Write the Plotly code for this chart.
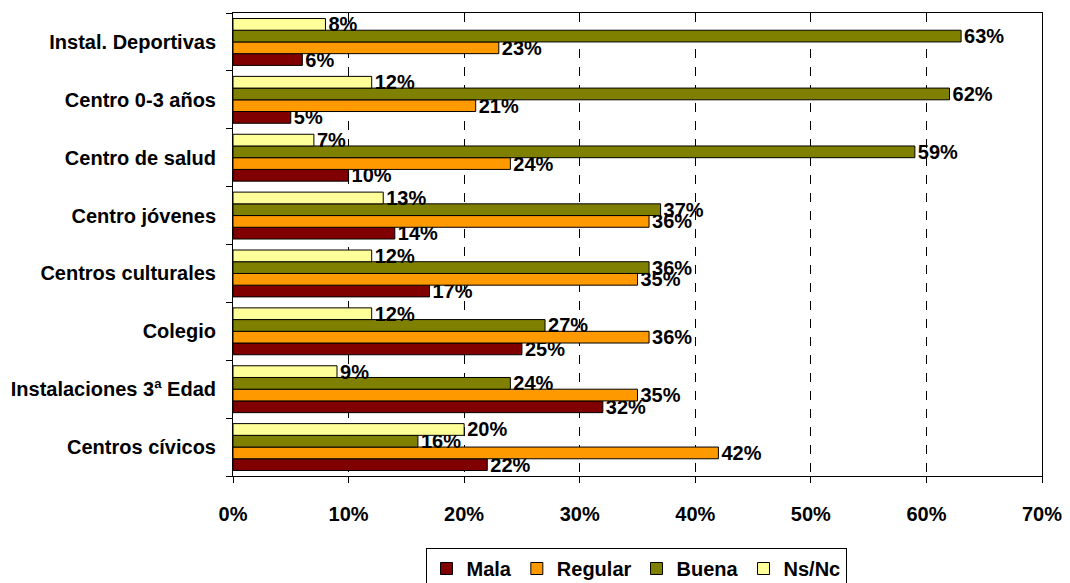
import plotly.graph_objects as go

categories = ["Instal. Deportivas", "Centro 0-3 años", "Centro de salud", "Centro jóvenes",
              "Centros culturales", "Colegio", "Instalaciones 3ª Edad", "Centros cívicos"]
mala = [6, 5, 10, 14, 17, 25, 32, 22]
regular = [23, 21, 24, 36, 35, 36, 35, 42]
buena = [63, 62, 59, 37, 36, 27, 24, 16]
nsnc = [8, 12, 7, 13, 12, 12, 9, 20]
x_ticks = [0, 10, 20, 30, 40, 50, 60, 70]

series = [("Mala", mala, "#800000"), ("Regular", regular, "#FF9900"),
          ("Buena", buena, "#808000"), ("Ns/Nc", nsnc, "#FFFF99")]

FONT = "Arial, Liberation Sans, sans-serif"
FS = 20
fig = go.Figure()
for name, vals, col in series:
    fig.add_trace(go.Bar(
        y=categories, x=vals, name=name, orientation="h",
        marker=dict(color=col, line=dict(color="black", width=1)),
        text=[f"{v}%" for v in vals], textposition="outside",
        constraintext="none",
        textfont=dict(family=FONT, size=FS, color="black", weight="bold"),
        cliponaxis=False,
    ))

# page body has an 8px default margin, so offsets are compensated here
fig.update_layout(
    width=1070, height=583,
    margin=dict(l=225, r=36, t=5, b=115, autoexpand=False),
    barmode="group", bargap=0.19, bargroupgap=0,
    plot_bgcolor="white", paper_bgcolor="white",
    font=dict(family=FONT, size=FS, color="black"),
    legend=dict(orientation="h", xref="container", x=(636 - 8) / 1070, xanchor="center",
                yref="container", y=(583 - 540) / 583, yanchor="top",
                bordercolor="black", borderwidth=1,
                font=dict(family=FONT, size=FS, color="black", weight="bold"),
                traceorder="normal", itemwidth=30, tracegroupgap=0),
)
fig.update_xaxes(
    range=[0, 70], tickvals=x_ticks, ticktext=[f"{t}%" for t in x_ticks],
    showgrid=True, gridcolor="black", griddash="dash", gridwidth=1,
    showline=True, linecolor="black", linewidth=1, mirror=True,
    ticks="outside", ticklen=6, tickcolor="black", automargin=False,
    tickfont=dict(family=FONT, size=FS, color="black", weight="bold"),
    zeroline=False, ticklabelstandoff=14,
)
fig.update_yaxes(
    categoryorder="array", categoryarray=categories[::-1],
    showline=True, linecolor="black", linewidth=1, mirror=True,
    ticks="outside", ticklen=6, tickcolor="black", tickson="boundaries",
    tickfont=dict(family=FONT, size=FS, color="black", weight="bold"),
    showgrid=False, automargin=False, ticklabelstandoff=12,
)
fig.write_html("out.html")
